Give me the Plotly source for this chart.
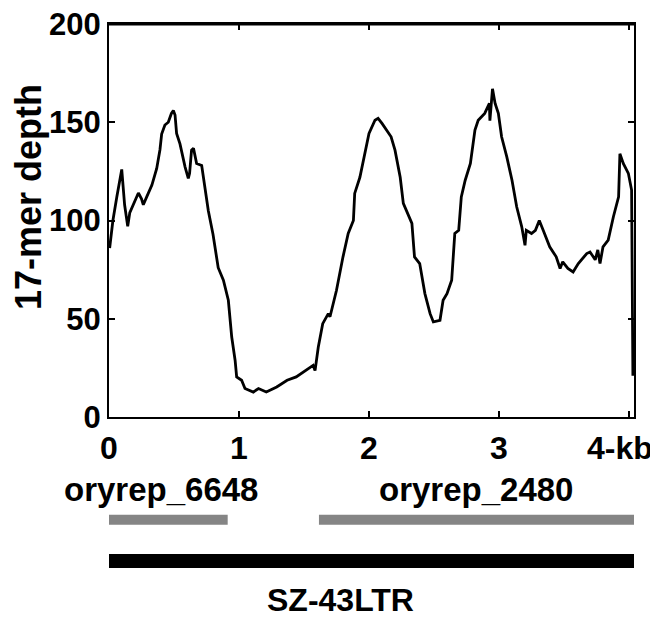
import plotly.graph_objects as go

# ---- data ----
pos_kb = [0.005, 0.03, 0.06, 0.098, 0.12, 0.144, 0.16, 0.2, 0.226, 0.25, 0.264, 0.29, 0.33, 0.367,
          0.392, 0.405, 0.43, 0.456, 0.48, 0.495, 0.508, 0.52, 0.546, 0.585, 0.61, 0.62, 0.635, 0.65,
          0.674, 0.713, 0.726, 0.764, 0.8, 0.84, 0.88, 0.918, 0.944, 0.97, 0.982, 1.02, 1.046, 1.11,
          1.15, 1.21, 1.29, 1.37, 1.44, 1.52, 1.57, 1.585, 1.61, 1.644, 1.687, 1.7, 1.75, 1.80, 1.84,
          1.88, 1.89, 1.93, 1.98, 2.0, 2.046, 2.07, 2.1, 2.136, 2.17, 2.2, 2.24, 2.264, 2.3, 2.33,
          2.35, 2.39, 2.43, 2.47, 2.495, 2.546, 2.57, 2.6, 2.636, 2.66, 2.69, 2.71, 2.74, 2.78, 2.815,
          2.84, 2.89, 2.926, 2.93, 2.95, 2.97, 2.995, 3.02, 3.06, 3.1, 3.136, 3.175, 3.2, 3.21, 3.25,
          3.28, 3.31, 3.34, 3.39, 3.44, 3.47, 3.49, 3.53, 3.57, 3.61, 3.675, 3.70, 3.725, 3.74, 3.76,
          3.777, 3.80, 3.84, 3.88, 3.92, 3.93, 3.956, 3.995, 4.02, 4.03]
depth = [86, 100, 112, 126, 108, 97, 104, 110, 114, 111, 108, 112, 118, 126.5,
         136, 144, 148.6, 150, 154.5, 156, 153.7, 144.3, 139, 127.3, 121.4, 124, 135.8, 136.7,
         129, 128, 122, 105, 93, 76, 69.6, 59.4, 40.7, 28.9, 20.4, 18.7, 14.5, 12.7,
         14.5, 12.7, 15.3, 18.7, 20.4, 23.8, 26.3, 23.6, 35.6, 47.5, 52.6, 51, 64.5, 81.5, 93.4,
         100, 113.8, 122, 139, 144.3, 151, 152, 149.4, 146, 142.6, 135.8, 122, 108.7, 103.6, 98.5,
         81.5, 78.1, 62.8, 52.6, 48.4, 49.2, 59.4, 62.8, 69.6, 93.4, 95, 112, 120.5, 129, 146,
         151, 154.5, 159.6, 150.8, 167, 159.6, 154.5, 142.6, 132.4, 120.5, 107, 96.8, 87.4, 95, 93.4,
         95, 100, 95, 86.6, 81.5, 75.6, 79, 75.6, 73.8, 78.1, 83.2, 84, 81.5, 80, 85,
         78.1, 86.6, 90, 101.9, 112, 134, 129, 124, 115.5, 21]

x_ticks = [0, 1, 2, 3, 4]
x_tick_text = ["0", "1", "2", "3", "4-kb"]
y_ticks = [0, 50, 100, 150, 200]

repeat_names = ["oryrep_6648", "oryrep_2480"]
repeat_start = [0.0, 1.615]
repeat_end = [0.913, 4.046]
repeat_label_x = [0.40, 2.82]

element_name = "SZ-43LTR"
element_start = -0.015
element_end = 4.046
element_label_x = 1.78

# ---- layout geometry (targets given in window pixels; page body adds an 8px offset) ----
OFF = 8
W, H = 658, 620
PLOT_L, PLOT_R, PLOT_T, PLOT_B = 109, 634, 24, 417
ML, MR, MT, MB = PLOT_L - OFF, W - (PLOT_R - OFF), PLOT_T - OFF, H - (PLOT_B - OFF)
PW, PH = W - ML - MR, H - MT - MB


def py(px):  # window pixel row -> paper y
    return (H - MB - (px - OFF)) / PH


def pxx(px):  # window pixel column -> paper x
    return (px - OFF - ML) / PW


SANS = "Liberation Sans, Arial, sans-serif"


def bold(size):
    return dict(family=SANS, size=size, color="black", weight="bold")


fig = go.Figure()
fig.add_trace(go.Scatter(x=pos_kb, y=depth, mode="lines",
                         line=dict(color="black", width=2.8), showlegend=False,
                         cliponaxis=False))

shapes = [
    dict(type="line", xref="paper", yref="paper", x0=-0.002, x1=1.002, y0=py(24.5), y1=py(24.5),
         line=dict(color="black", width=2), layer="above"),
]
# top-side ticks at the x tick positions
for tv in x_ticks[1:]:
    shapes.append(dict(type="line", xref="x", yref="paper", x0=tv, x1=tv,
                       y0=py(24), y1=py(30), line=dict(color="black", width=2), layer="above"))
for s, e in zip(repeat_start, repeat_end):
    shapes.append(dict(type="line", xref="x", yref="paper", x0=s, x1=e,
                       y0=py(519.7), y1=py(519.7), line=dict(color="#858585", width=10)))
shapes.append(dict(type="line", xref="x", yref="paper", x0=element_start, x1=element_end,
                   y0=py(561), y1=py(561), line=dict(color="black", width=14)))

annotations = []
# x tick labels (placed on the x axis scale)
for tv, tt in zip(x_ticks, x_tick_text):
    shift = -9 if tt.endswith("kb") else 0
    annotations.append(dict(x=tv, xref="x", y=py(447.5), yref="paper", text=tt, xshift=shift,
                            showarrow=False, xanchor="center", yanchor="middle",
                            font=bold(32)))
for name, lx in zip(repeat_names, repeat_label_x):
    annotations.append(dict(x=lx, xref="x", y=py(489), yref="paper", text=name,
                            showarrow=False, xanchor="center", yanchor="middle",
                            font=bold(33)))
annotations.append(dict(x=element_label_x, xref="x", y=py(599.5), yref="paper", text=element_name,
                        showarrow=False, xanchor="center", yanchor="middle",
                        font=bold(32)))
annotations.append(dict(x=pxx(28), xref="paper", y=py(197), yref="paper", text="17-mer depth",
                        textangle=-90, showarrow=False, xanchor="center", yanchor="middle",
                        font=bold(36)))

fig.update_layout(
    width=W, height=H,
    margin=dict(l=ML, r=MR, t=MT, b=MB, pad=0, autoexpand=False),
    paper_bgcolor="white", plot_bgcolor="white",
    xaxis=dict(range=[0, (PLOT_R - PLOT_L) / 130.0], tickvals=x_ticks,
               showticklabels=False,
               ticks="inside", ticklen=6, tickwidth=2, tickcolor="black",
               showline=True, linewidth=2, linecolor="black", mirror="ticks",
               showgrid=False, zeroline=False, automargin=False),
    yaxis=dict(range=[0, 200], tickvals=y_ticks,
               ticks="inside", ticklen=6, tickwidth=2, tickcolor="black",
               showline=True, linewidth=2, linecolor="black", mirror="ticks",
               showgrid=False, zeroline=False, automargin=False,
               ticklabeloverflow="allow",
               tickfont=bold(31)),
    shapes=shapes,
    annotations=annotations,
)

fig.write_html("out.html", config={"displayModeBar": False})
